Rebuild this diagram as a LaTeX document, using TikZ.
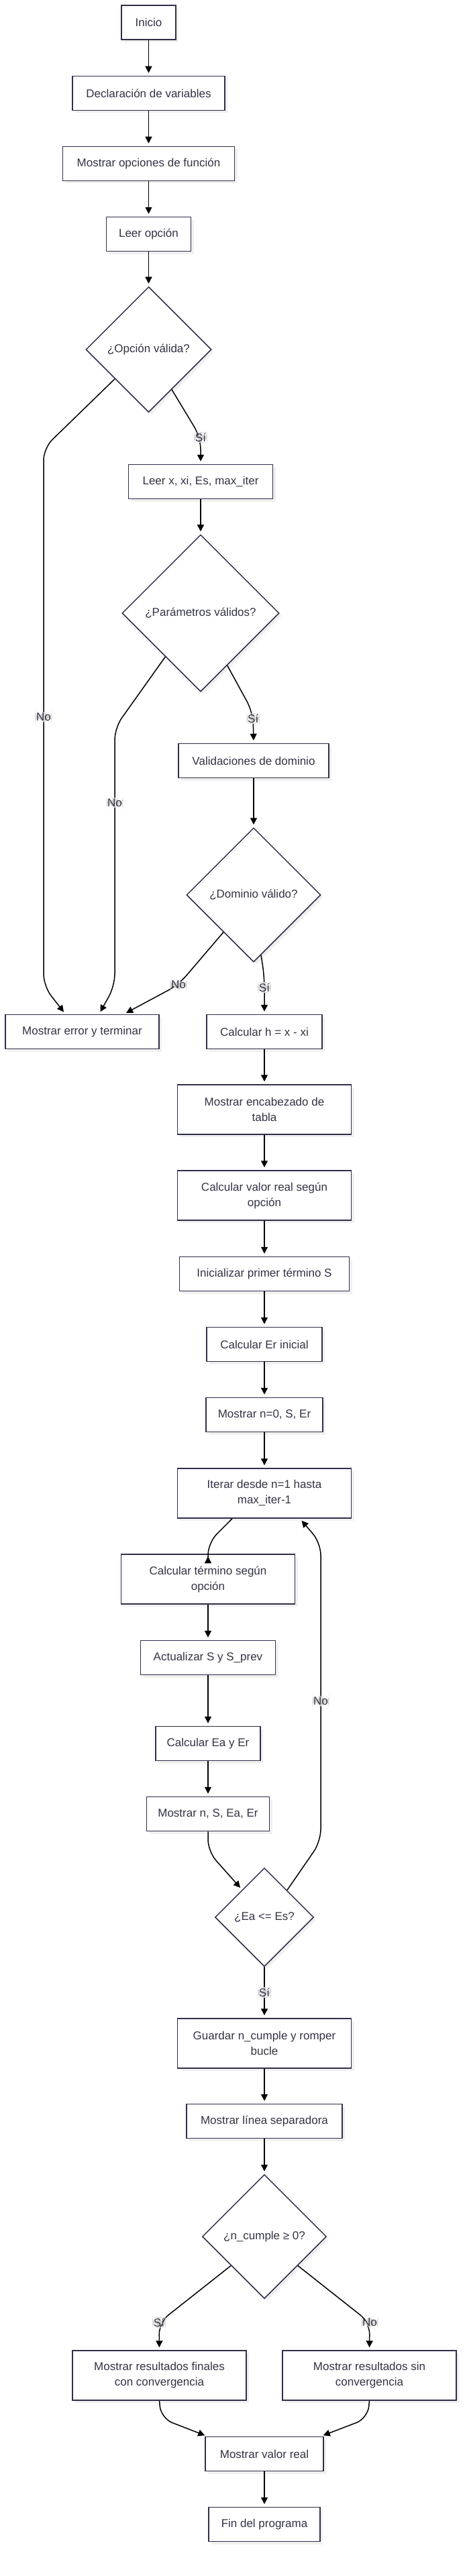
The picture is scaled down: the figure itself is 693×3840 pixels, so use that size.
\documentclass[tikz,border=0pt]{standalone}
\usepackage{fontspec}
\setmainfont{Liberation Sans}
\usetikzlibrary{arrows.meta,shapes.geometric,shadows}
\definecolor{borde}{HTML}{2F2F4A}
\definecolor{texto}{HTML}{333344}
\definecolor{etiq}{HTML}{D4D4D4}
\begin{document}
\begin{tikzpicture}[x=1pt,y=-1pt]
\tikzstyle{every node}+=[inner sep=0pt,text=texto,font=\fontsize{17}{23}\selectfont]
\tikzstyle{caja}=[draw=borde,line width=1.5pt,fill=white,align=center,drop shadow={shadow xshift=4pt,shadow yshift=-4pt,fill=black,opacity=0.06}]
\tikzstyle{rombo}=[caja,diamond,aspect=1]
\tikzstyle{flecha}=[black,line width=1.5pt,-{Triangle[length=10pt,width=10pt]},shorten >=4pt,rounded corners=18pt]
\tikzstyle{etiqueta}=[fill=etiq,inner sep=1.5pt,text=texto]
\useasboundingbox (0,0) rectangle (693,3840);
\node[caja,minimum width=81,minimum height=51] (inicio) at (221.5,33.5) {Inicio};
\node[caja,minimum width=227,minimum height=51] (decl) at (221.5,139) {Declaración de variables};
\node[caja,minimum width=256,minimum height=51] (mostrarop) at (221.5,244) {Mostrar opciones de función};
\node[caja,minimum width=126,minimum height=51] (leerop) at (221.5,349) {Leer opción};
\node[rombo,minimum width=187,minimum height=187] (opval) at (221.5,521) {¿Opción válida?};
\node[caja,minimum width=215,minimum height=51] (leerpar) at (299,718) {Leer x, xi, Es, max\_iter};
\node[rombo,minimum width=234,minimum height=234] (parval) at (299,914) {¿Parámetros válidos?};
\node[caja,minimum width=224,minimum height=51] (valdom) at (378,1134) {Validaciones de dominio};
\node[rombo,minimum width=200,minimum height=200] (domval) at (378,1334) {¿Dominio válido?};
\node[caja,minimum width=229,minimum height=51] (error) at (122.5,1538) {Mostrar error y terminar};
\node[caja,minimum width=172,minimum height=51] (calch) at (394,1538) {Calcular h = x - xi};
\node[caja,minimum width=259,minimum height=74] (encab) at (394,1654) {Mostrar encabezado de\\tabla};
\node[caja,minimum width=259,minimum height=74] (valreal) at (394,1782) {Calcular valor real según\\opción};
\node[caja,minimum width=253,minimum height=51] (iniS) at (394,1899) {Inicializar primer término S};
\node[caja,minimum width=172,minimum height=51] (calcEr) at (394,2004) {Calcular Er inicial};
\node[caja,minimum width=174,minimum height=51] (mostrar0) at (394,2109) {Mostrar n=0, S, Er};
\node[caja,minimum width=259,minimum height=74] (iterar) at (394,2226) {Iterar desde n=1 hasta\\max\_iter-1};
\node[caja,minimum width=259,minimum height=74] (calcterm) at (310,2354) {Calcular término según\\opción};
\node[caja,minimum width=201,minimum height=51] (actS) at (310,2471) {Actualizar S y S\_prev};
\node[caja,minimum width=156,minimum height=51] (calcEa) at (310,2599) {Calcular Ea y Er};
\node[caja,minimum width=183,minimum height=51] (mostrarn) at (310,2704) {Mostrar n, S, Ea, Er};
\node[rombo,minimum width=147,minimum height=147] (conv) at (394,2858) {¿Ea <= Es?};
\node[caja,minimum width=259,minimum height=74] (guardar) at (394,3046) {Guardar n\_cumple y romper\\bucle};
\node[caja,minimum width=232,minimum height=51] (linea) at (394,3162) {Mostrar línea separadora};
\node[rombo,minimum width=185,minimum height=185] (ncumple) at (394,3334) {¿n\_cumple ≥ 0?};
\node[caja,minimum width=259,minimum height=74] (resconv) at (237.5,3541) {Mostrar resultados finales\\con convergencia};
\node[caja,minimum width=259,minimum height=74] (ressin) at (550.5,3541) {Mostrar resultados sin\\convergencia};
\node[caja,minimum width=176,minimum height=51] (valor) at (394,3658) {Mostrar valor real};
\node[caja,minimum width=166,minimum height=51] (fin) at (394,3763) {Fin del programa};
\draw[flecha] (inicio) -- (decl);
\draw[flecha] (decl) -- (mostrarop);
\draw[flecha] (mostrarop) -- (leerop);
\draw[flecha] (leerop) -- (opval);
\draw[flecha] (opval.-60) -- (299,652) node[etiqueta]{Sí} -- (leerpar.north);
\draw[flecha] (opval.221) -- (65,668) -- node[etiqueta]{No} (65,1470) -- ([xshift=-25pt]error.north);
\draw[flecha] (leerpar) -- (parval);
\draw[flecha] (parval.231) -- (171,1085) -- node[etiqueta,pos=0.29]{No} (171,1470) -- ([xshift=25pt]error.north);
\draw[flecha] (parval.-63) -- (377,1062) -- node[etiqueta,pos=0.2]{Sí} (valdom.north);
\draw[flecha] (valdom) -- (domval);
\draw[flecha] (domval.231) -- (266,1468) node[etiqueta]{No} -- ([xshift=62pt]error.north);
\draw[flecha] (domval.-83) -- (394,1455) -- node[etiqueta,pos=0.3]{Sí} (calch.north);
\draw[flecha] (calch) -- (encab);
\draw[flecha] (encab) -- (valreal);
\draw[flecha] (valreal) -- (iniS);
\draw[flecha] (iniS) -- (calcEr);
\draw[flecha] (calcEr) -- (mostrar0);
\draw[flecha] (mostrar0) -- (iterar);
\draw[flecha] ([xshift=-48pt]iterar.south) -- (310,2300) -- (calcterm.north);
\draw[flecha] (calcterm) -- (actS);
\draw[flecha] (actS) -- (calcEa);
\draw[flecha] (calcEa) -- (mostrarn);
\draw[flecha] (mostrarn.south) -- (310,2760) -- (conv.129);
\draw[flecha] (conv.50) -- (478,2745) -- node[etiqueta,pos=0.47]{No} (478,2300) -- ([xshift=53pt]iterar.south);
\draw[flecha] (conv) -- node[etiqueta]{Sí} (guardar);
\draw[flecha] (guardar) -- (linea);
\draw[flecha] (linea) -- (ncumple);
\draw[flecha] (ncumple.221) -- (237,3462) node[etiqueta]{Sí} -- (resconv.north);
\draw[flecha] (ncumple.-41) -- (551,3462) node[etiqueta]{No} -- (ressin.north);
\draw[flecha] (resconv.south) -- (240,3605) -- ([xshift=-85pt]valor.north);
\draw[flecha] (ressin.south) -- (548,3605) -- ([xshift=84pt]valor.north);
\draw[flecha] (valor) -- (fin);
\end{tikzpicture}
\end{document}
